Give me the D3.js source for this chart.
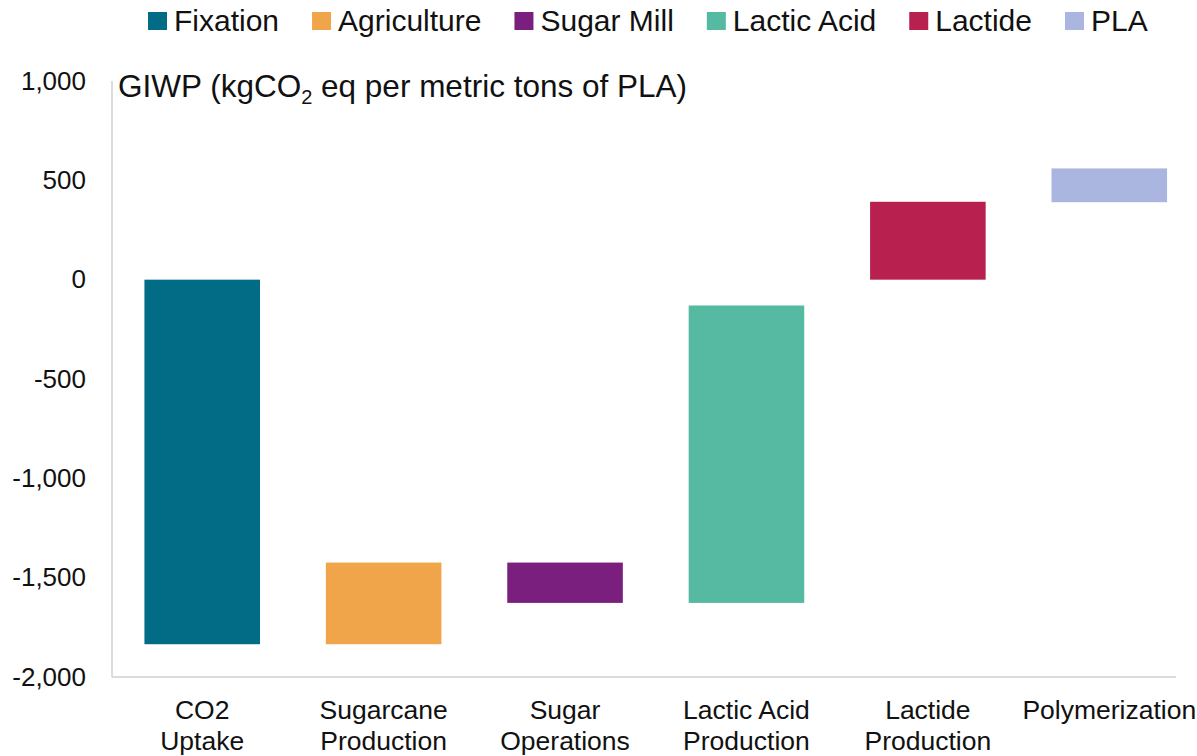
<!DOCTYPE html>
<html>
<head>
<meta charset="utf-8">
<script src="https://cdn.jsdelivr.net/npm/d3@7"></script>
<style>
  html, body { margin: 0; padding: 0; background: #fff; }
  svg { display: block; font-family: Arial, "Liberation Sans", sans-serif; }
</style>
</head>
<body>
<svg id="chart" width="1197" height="756"></svg>
<script>
// Process stages of PLA production (x axis)
const stages = [
  ["CO2", "Uptake"],
  ["Sugarcane", "Production"],
  ["Sugar", "Operations"],
  ["Lactic Acid", "Production"],
  ["Lactide", "Production"],
  ["Polymerization"]
];
// Legend groups, one per stage
const groups = ["Fixation", "Agriculture", "Sugar Mill", "Lactic Acid", "Lactide", "PLA"];
const groupColors = ["#026B85", "#F0A54B", "#7A1F7E", "#55BAA1", "#B8204F", "#AAB6E0"];
// Floating bar extents (kgCO2 eq per metric ton of PLA)
const barLow  = [-1835, -1835, -1627, -1627,   0, 390];
const barHigh = [    0, -1424, -1424,  -130, 392, 560];
// Y axis ticks
const yTicks = [1000, 500, 0, -500, -1000, -1500, -2000];

const svg = d3.select("#chart");

const x = d3.scaleBand()
  .domain(d3.range(stages.length))
  .range([111.5, 1200])
  .paddingInner(0.363)
  .paddingOuter(0.1815);

const y = d3.scaleLinear()
  .domain([-2000, 1000])
  .range([677, 81]);

// Thousands separator with a plain hyphen for negatives
const fmt = v => d3.format(",")(v).replace("\u2212", "-");

// Plot frame: left and bottom axis lines
svg.append("line")
  .attr("x1", 112).attr("x2", 112)
  .attr("y1", y(1000)).attr("y2", y(-2000))
  .attr("stroke", "#d0d0d0").attr("stroke-width", 1.5);
svg.append("line")
  .attr("x1", 112).attr("x2", 1176)
  .attr("y1", y(-2000)).attr("y2", y(-2000))
  .attr("stroke", "#d0d0d0").attr("stroke-width", 1.5);

// Y tick labels
const yAxis = d3.axisLeft(y).tickValues(yTicks).tickFormat(fmt).tickSize(0).tickPadding(0);
const yg = svg.append("g").attr("transform", "translate(86,0)").call(yAxis);
yg.select(".domain").remove();
yg.selectAll("text")
  .attr("font-size", 26).attr("fill", "#111")
  .attr("font-family", "Arial, 'Liberation Sans', sans-serif");

// Bars
svg.append("g").selectAll("rect")
  .data(stages.map((s, i) => i))
  .join("rect")
  .attr("x", i => x(i))
  .attr("width", x.bandwidth())
  .attr("y", i => y(barHigh[i]))
  .attr("height", i => y(barLow[i]) - y(barHigh[i]))
  .attr("fill", i => groupColors[i]);

// Category labels
const cat = svg.append("g").selectAll("text")
  .data(stages)
  .join("text")
  .attr("x", (d, i) => x(i) + x.bandwidth() / 2)
  .attr("y", 719)
  .attr("text-anchor", "middle")
  .attr("font-size", 26.5)
  .attr("fill", "#111");
cat.selectAll("tspan")
  .data(d => d)
  .join("tspan")
  .attr("x", function() { return this.parentNode.getAttribute("x"); })
  .attr("dy", (d, j) => j === 0 ? 0 : 31)
  .text(d => d);

// Axis title inside the plot
const title = svg.append("text")
  .attr("x", 118).attr("y", 97)
  .attr("font-size", 31.5).attr("fill", "#111");
title.append("tspan").text("GIWP (kgCO");
title.append("tspan").attr("font-size", 20).attr("dy", 7).text("2");
title.append("tspan").attr("dy", -7).text(" eq per metric tons of PLA)");

// Legend
const legend = svg.append("g");
let lx = 148;
groups.forEach((g, i) => {
  legend.append("rect")
    .attr("x", lx).attr("y", 12)
    .attr("width", 19).attr("height", 18)
    .attr("fill", groupColors[i]);
  const t = legend.append("text")
    .attr("x", lx + 26).attr("y", 31)
    .attr("font-size", 30).attr("fill", "#111")
    .text(g);
  lx += 26 + t.node().getComputedTextLength() + 33;
});
</script>
</body>
</html>
